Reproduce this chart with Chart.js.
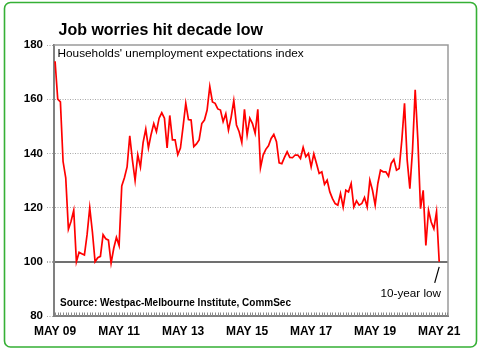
<!DOCTYPE html>
<html><head><meta charset="utf-8">
<script src="https://cdn.jsdelivr.net/npm/chart.js@4.4.0/dist/chart.umd.min.js"></script>
<style>html,body{margin:0;padding:0;background:#fff;}#wrap{width:481px;height:353px;position:relative;}</style>
</head><body><div id="wrap"><canvas id="c" width="481" height="353"></canvas></div>
<script>
const titleText = "Job worries hit decade low";
const subtitleText = "Households' unemployment expectations index";
const sourceText = "Source: Westpac-Melbourne Institute, CommSec";
const annotationText = "10-year low";
const xTickMonths = [0, 24, 48, 72, 96, 120, 144];
const xTickLabels = ["MAY 09", "MAY 11", "MAY 13", "MAY 15", "MAY 17", "MAY 19", "MAY 21"];
const yTicks = [80, 100, 120, 140, 160, 180];
// monthly index, May 2009 .. May 2021
const values = [
 174,160,159,137,131,112,115,119,100,103.5,103,102.5,
 110,120,111,100,101.5,102,110,108.5,108,99.5,105,109,
 106,128,131,135,146.5,137.5,130,139.5,135,144,149,142,
 147,151,148,153,155,153,142,154,145,145,139.5,142,
 150,158.5,152.5,152.3,142.5,143.5,145,151,152.3,156,164.7,159,
 158.5,156.4,156,151.7,154.6,148.6,153.3,159.5,150.5,148,144,156.3,
 146.8,153,151,147.4,156.3,134.7,139.4,141.5,142.8,145.5,147,144.3,
 136.5,136.2,138.5,140.6,138.5,138.4,139.4,139.4,138.1,142.2,138.8,140,
 135,139.8,136.3,132.6,133.2,128.6,130.1,125.8,123.3,121.5,120.9,125.2,
 120.2,126.4,125.8,128.9,120.2,122.5,120.9,121.5,123.7,120.2,130.1,126.4,
 120.9,128.9,133.8,133.2,133.2,131.6,136.3,137.8,133.8,134.4,145,158.5,
 137.5,127,141.2,163.5,145,119.6,126.4,106,119,114.7,112.2,118.4,
 100
];
const points = values.map((v, i) => ({x: i, y: v}));
const FONT = "'Liberation Sans', Arial, sans-serif";

const decor = {
  id: 'decor',
  beforeDraw(chart) {
    const ctx = chart.ctx;
    ctx.save();
    ctx.fillStyle = '#fff';
    ctx.fillRect(0, 0, chart.width, chart.height);
    ctx.restore();
  },
  beforeDatasetsDraw(chart) {
    const ctx = chart.ctx, a = chart.chartArea;
    const xs = chart.scales.x;
    ctx.save();
    ctx.strokeStyle = '#9a9a9a';
    ctx.lineWidth = 1.5;
    ctx.beginPath();
    ctx.moveTo(a.left, a.top); ctx.lineTo(a.right, a.top); ctx.lineTo(a.right, a.bottom);
    ctx.stroke();
    ctx.strokeStyle = '#8a8a8a';
    ctx.lineWidth = 1;
    ctx.beginPath();
    for (let m = 0; m <= 147; m++) {
      const px = Math.round(xs.getPixelForValue(m)) + 0.5;
      if (px < a.left || px > a.right) continue;
      ctx.moveTo(px, a.bottom); ctx.lineTo(px, a.bottom - 3.5);
    }
    ctx.stroke();
    ctx.restore();
  },
  afterDraw(chart) {
    const ctx = chart.ctx;
    const xs = chart.scales.x, ys = chart.scales.y;
    ctx.save();
    ctx.strokeStyle = '#35b035';
    ctx.lineWidth = 1.6;
    ctx.beginPath();
    ctx.roundRect(4.5, 2.5, 472, 344.5, 6);
    ctx.stroke();
    ctx.fillStyle = '#000';
    ctx.textBaseline = 'alphabetic';
    ctx.textAlign = 'left';
    ctx.font = "bold 16px " + FONT;
    ctx.fillText(titleText, 58.5, 35);
    ctx.font = "11.8px " + FONT;
    ctx.fillText(subtitleText, 57.5, 57);
    ctx.font = "bold 10px " + FONT;
    ctx.fillText(sourceText, 60, 306);
    ctx.font = "11.7px " + FONT;
    ctx.textAlign = 'right';
    ctx.fillText(annotationText, 441, 297);
    const last = values.length - 1;
    const px = xs.getPixelForValue(last), py = ys.getPixelForValue(values[last]);
    ctx.strokeStyle = '#000';
    ctx.lineWidth = 1.2;
    ctx.beginPath();
    ctx.moveTo(px, py + 5); ctx.lineTo(px - 4.5, py + 21);
    ctx.stroke();
    ctx.restore();
  }
};

new Chart(document.getElementById('c'), {
  type: 'line',
  data: { datasets: [{
    data: points,
    borderColor: '#ff0000',
    borderWidth: 1.7,
    pointRadius: 0,
    tension: 0,
    fill: false
  }]},
  options: {
    responsive: false,
    animation: false,
    events: [],
    layout: { padding: { left: 0, right: 33, top: 45, bottom: 0 } },
    plugins: { legend: { display: false }, tooltip: { enabled: false } },
    scales: {
      x: {
        type: 'linear', min: -0.4, max: 147.3,
        afterBuildTicks: s => { s.ticks = xTickMonths.map(v => ({ value: v })); },
        afterFit: s => { s.height = 37; },
        ticks: {
          callback: (v, i) => xTickLabels[i],
          font: { family: FONT, weight: 'bold', size: 12 },
          color: '#000', padding: 8, maxRotation: 0, autoSkip: false
        },
        grid: { display: true, drawOnChartArea: false, drawTicks: false },
        border: { color: '#808080', width: 2 }
      },
      y: {
        min: 80, max: 180,
        afterBuildTicks: s => { s.ticks = yTicks.map(v => ({ value: v })); },
        afterFit: s => { s.width = 54; },
        ticks: {
          font: { family: FONT, weight: 'bold', size: 11.5 },
          color: '#000', padding: 4
        },
        grid: {
          color: c => (c.tick && (c.tick.value === 80 || c.tick.value === 180)) ? 'rgba(0,0,0,0)' : (c.tick && c.tick.value === 100 ? '#707070' : '#a8a8a8'),
          lineWidth: c => (c.tick && c.tick.value === 100) ? 2 : 1,
          tickLength: 7,
          tickColor: '#a8a8a8',
          tickBorderDash: [1, 1.5]
        },
        border: {
          color: '#808080', width: 2,
          dash: c => (c.tick && c.tick.value === 100) ? [] : [1, 1.5]
        }
      }
    }
  },
  plugins: [decor]
});
</script></body></html>
